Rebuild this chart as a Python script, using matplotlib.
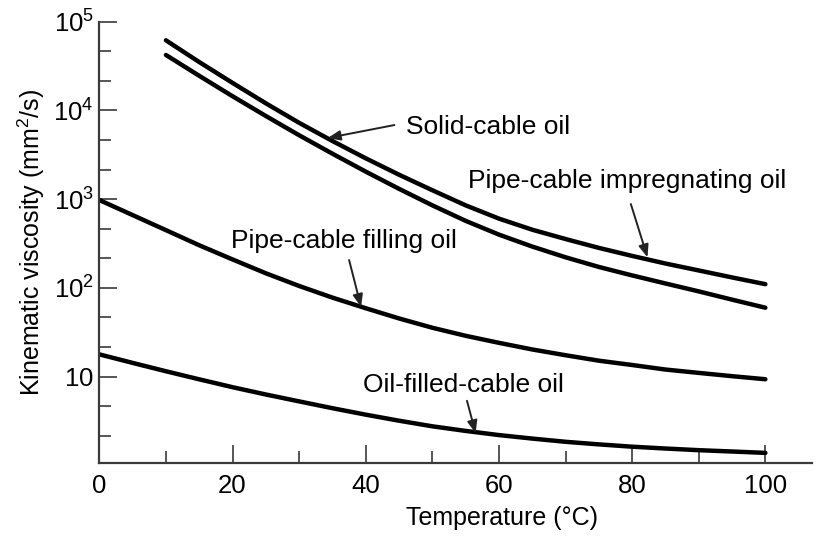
import numpy as np
import matplotlib
matplotlib.use("Agg")
import matplotlib.pyplot as plt
from matplotlib.ticker import FixedLocator, NullFormatter

plt.rcParams['font.family'] = ['Liberation Sans', 'DejaVu Sans']
plt.rcParams['mathtext.fontset'] = 'custom'
plt.rcParams['mathtext.rm'] = 'Liberation Sans'
plt.rcParams['mathtext.it'] = 'Liberation Sans:italic'
plt.rcParams['mathtext.bf'] = 'Liberation Sans:bold'

# ---- data ----
temp_upper = [10, 15, 20, 25, 30, 35, 40, 45, 50, 55, 60, 65, 70, 75, 80, 85, 90, 95, 100]
solid_cable = [61660, 35080, 20420, 12020, 7244, 4519, 2884, 1884, 1259, 851, 603,
               452, 355, 282, 229, 188, 157, 131, 110]

temp_lower = [10, 15, 20, 25, 30, 35, 40, 45, 50, 55, 60, 65, 70, 75, 80, 85, 90, 95, 100]
pipe_impreg = [42170, 24550, 14450, 8650, 5248, 3251, 2042, 1306, 851, 569, 398,
               292, 221, 172, 138, 112, 91.2, 73.6, 59.7]

temp_fill = [0, 5, 10, 15, 20, 25, 30, 35, 40, 45, 50, 55, 60, 65, 70, 75, 80, 85, 90, 95, 100]
pipe_filling = [977, 661, 447, 302, 209, 146, 105, 77.6, 58.9, 45.2, 35.5, 28.8, 24.0,
                20.2, 17.4, 15.1, 13.5, 12.0, 11.0, 10.1, 9.33]

temp_of = [0, 5, 10, 15, 20, 25, 30, 35, 40, 45, 50, 55, 60, 65, 70, 75, 80, 85, 90, 95, 100]
oil_filled = [17.8, 14.26, 11.48, 9.31, 7.59, 6.28, 5.25, 4.40, 3.72, 3.18, 2.75, 2.44,
              2.19, 2.00, 1.84, 1.72, 1.62, 1.545, 1.48, 1.43, 1.38]

x_major = [0, 20, 40, 60, 80, 100]
x_minor = [10, 30, 50, 70, 90]
y_major = [10, 100, 1000, 10000, 100000]
y_labels = [r'$\mathregular{10}$', r'$\mathregular{10^2}$', r'$\mathregular{10^3}$',
            r'$\mathregular{10^4}$', r'$\mathregular{10^5}$']

fig = plt.figure(figsize=(8.16, 5.38), dpi=100)
ax = fig.add_axes([0.1217, 0.1400, 0.8734, 0.8197])

lw = 3.2
for t, v in [(temp_upper, solid_cable), (temp_lower, pipe_impreg),
             (temp_fill, pipe_filling), (temp_of, oil_filled)]:
    ax.plot(t, v, color='black', lw=lw, solid_capstyle='round', solid_joinstyle='round')

ax.set_yscale('log')
ax.set_xlim(0, 107)
ax.set_ylim(1.07, 1e5)

ax.set_xticks(x_major)
ax.set_xticklabels([str(x) for x in x_major])
ax.xaxis.set_minor_locator(FixedLocator(x_minor))
ax.set_yticks(y_major)
ax.set_yticklabels(y_labels)
ymin = [10 ** (k + f) for k in range(0, 5) for f in (1/3, 2/3)]
ax.yaxis.set_minor_locator(FixedLocator(ymin))
ax.yaxis.set_minor_formatter(NullFormatter())

spc = '#3a3a3a'
for s in ['top', 'right']:
    ax.spines[s].set_visible(False)
for s in ['left', 'bottom']:
    ax.spines[s].set_color(spc)
    ax.spines[s].set_linewidth(1.6)

ax.tick_params(axis='both', which='major', direction='in', length=13, width=1.2,
               color=spc, labelsize=18.5, labelcolor='black')
ax.tick_params(axis='both', which='minor', direction='in', length=8.3, width=1.2, color=spc)
ax.tick_params(axis='x', which='major', pad=8)
ax.tick_params(axis='y', which='major', pad=4)

ax.set_xlabel('Temperature (°C)', fontsize=18)
ax.xaxis.set_label_coords(0.565, -0.098)
ax.set_ylabel(r'Kinematic viscosity (mm$^\mathregular{2}$/s)', fontsize=18)
ax.yaxis.set_label_coords(-0.074, 0.5)

fs = 19
aprops = dict(arrowstyle='-|>,head_length=0.75,head_width=0.3', color='#222222',
              lw=1.4, shrinkA=0, shrinkB=0)

ax.text(46.0, 5370, 'Solid-cable oil', fontsize=fs, ha='left', va='baseline')
ax.annotate('', xy=(34.3, 4890), xytext=(44.3, 6840), arrowprops=aprops)

ax.text(55.3, 1324, 'Pipe-cable impregnating oil', fontsize=fs, ha='left', va='baseline')
ax.annotate('', xy=(82.3, 221), xytext=(79.8, 881), arrowprops=aprops)

ax.text(19.8, 279, 'Pipe-cable filling oil', fontsize=fs, ha='left', va='baseline')
ax.annotate('', xy=(39.3, 61), xytext=(37.5, 206), arrowprops=aprops)

ax.text(39.6, 6.64, 'Oil-filled-cable oil', fontsize=fs, ha='left', va='baseline')
ax.annotate('', xy=(56.5, 2.3), xytext=(55.2, 5.33), arrowprops=aprops)

fig.savefig('out.png', dpi=100)
